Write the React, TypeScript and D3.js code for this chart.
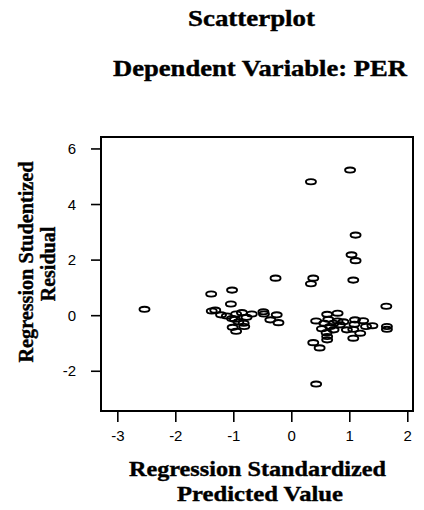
import React from 'react';
import * as d3 from 'd3';

// standardized predicted value (x) and studentized residual (y)
const predicted = [
  -2.54, -1.39, -1.03, -1.05, -1.38, -1.32, -1.22, -1.12, -0.96, -0.86, -0.69, -0.49, -0.48, -0.26,
  -0.37, -0.23, -0.98, -0.78, -0.83, -1.02, -0.96, -0.82, -0.92, -1.03,
  -0.28, 0.37, 0.33, 0.33, 1.005, 1.1, 1.03, 1.1, 1.06, 1.63,
  0.42, 0.61, 0.79, 0.63, 0.79, 0.72, 0.66, 0.83, 0.52, 0.6, 0.61, 0.61, 0.72, 0.37, 0.48, 0.42,
  0.95, 1.06, 1.08, 1.09, 1.06, 1.18, 1.23, 1.28, 1.39, 1.64, 1.64, 0.89, 0.56,
];
const residual = [
  0.23, 0.78, 0.92, 0.42, 0.17, 0.2, 0.03, -0.01, 0.06, 0.11, 0.06, 0.14, 0.06, 0.03,
  -0.15, -0.25, -0.13, -0.06, -0.27, -0.42, -0.56, -0.39, -0.22, -0.1,
  1.35, 1.35, 1.15, 4.82, 5.24, 2.9, 2.19, 1.98, 1.28, 0.34,
  -0.19, 0.05, 0.09, -0.13, -0.19, -0.27, -0.39, -0.33, -0.47, -0.61, -0.75, -0.87, -0.51, -0.97, -1.16, -2.46,
  -0.51, -0.49, -0.31, -0.15, -0.81, -0.63, -0.18, -0.39, -0.36, -0.39, -0.49, -0.22, -0.27,
];
const xTicks = [-3, -2, -1, 0, 1, 2];
const yTicks = [-2, 0, 2, 4, 6];

const serif = '"Liberation Serif", "Times New Roman", serif';
const sans = '"Liberation Sans", Arial, sans-serif';

const App: React.FC = () => {
  const left = 101, right = 413, top = 137, bottom = 411;
  const x = d3.scaleLinear().domain([-3.29, 2.09]).range([left, right]);
  const y = d3.scaleLinear().domain([-3.43, 6.43]).range([bottom, top]);
  const points = predicted.map((p, i) => ({ px: p, py: residual[i] }));

  const bold = { fontFamily: serif, fontWeight: 'bold' as const, stroke: '#000', strokeWidth: 0.4 };

  return (
    <svg width={424} height={510} style={{ position: 'absolute', left: 0, top: 0, background: '#fff' }}>
      <text x={251.5} y={26} textAnchor="middle" {...bold} fontSize={23}
        textLength={127} lengthAdjust="spacingAndGlyphs">Scatterplot</text>
      <text x={260} y={76} textAnchor="middle" {...bold} fontSize={23}
        textLength={294} lengthAdjust="spacingAndGlyphs">Dependent Variable: PER</text>

      <rect x={left} y={top} width={right - left} height={bottom - top} fill="none" stroke="#000" strokeWidth={2} />

      {xTicks.map(t => (
        <g key={'x' + t}>
          <line x1={x(t)} x2={x(t)} y1={bottom + 1} y2={bottom + 11} stroke="#000" strokeWidth={1.6} />
          <text x={x(t)} y={441} textAnchor="middle" fontFamily={sans} fontSize={15}>{t}</text>
        </g>
      ))}
      {yTicks.map(t => (
        <g key={'y' + t}>
          <line x1={left - 1} x2={left - 10} y1={y(t)} y2={y(t)} stroke="#000" strokeWidth={1.6} />
          <text x={76} y={y(t) + 5} textAnchor="end" fontFamily={sans} fontSize={15}>{t}</text>
        </g>
      ))}

      <text x={257.5} y={476} textAnchor="middle" {...bold} fontSize={22}
        textLength={257} lengthAdjust="spacingAndGlyphs">Regression Standardized</text>
      <text x={260} y={501} textAnchor="middle" {...bold} fontSize={22}
        textLength={166} lengthAdjust="spacingAndGlyphs">Predicted Value</text>

      <text transform="translate(33,262) rotate(-90)" textAnchor="middle" {...bold}
        fontSize={20} textLength={201} lengthAdjust="spacingAndGlyphs">Regression Studentized</text>
      <text transform="translate(55,264) rotate(-90)" textAnchor="middle" {...bold}
        fontSize={20}>Residual</text>

      {points.map((d, i) => (
        <ellipse key={i} cx={x(d.px)} cy={y(d.py)} rx={5} ry={2.6} fill="none" stroke="#000" strokeWidth={1.9} />
      ))}
    </svg>
  );
};

export default App;
